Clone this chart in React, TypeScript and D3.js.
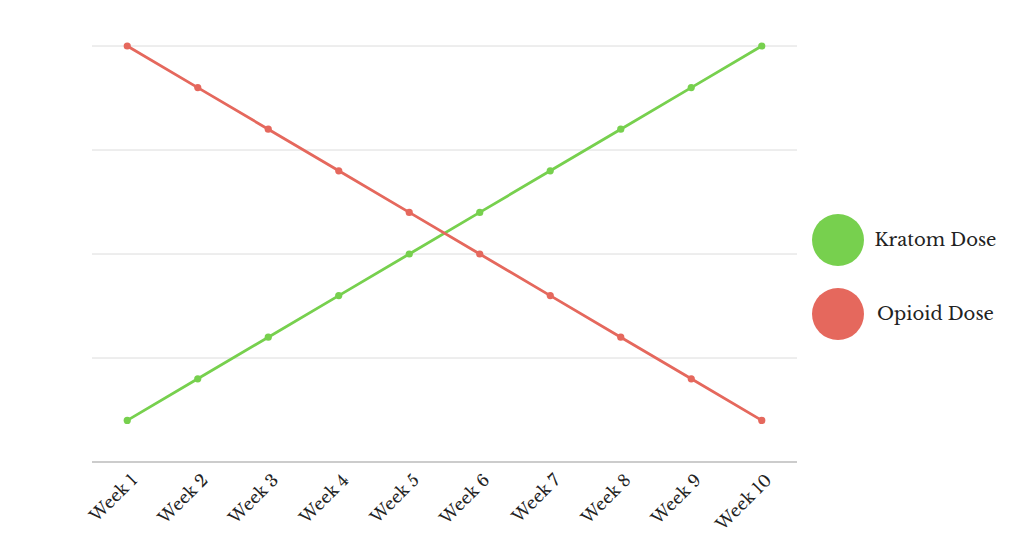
import React from "react";
import * as d3 from "d3";

const weeks = ["Week 1","Week 2","Week 3","Week 4","Week 5","Week 6","Week 7","Week 8","Week 9","Week 10"];
const kratom = [10,20,30,40,50,60,70,80,90,100];
const opioid = [100,90,80,70,60,50,40,30,20,10];
const gridValues = [25,50,75,100];
const seriesNames = ["Kratom Dose","Opioid Dose"];
const colors = ["#77D04E","#E5685D"];

export default function App() {
  const W = 1024, H = 554;
  const left = 92, right = 797, top = 46, bottom = 462;
  const x = d3.scalePoint<string>().domain(weeks).range([left, right]).padding(0.5);
  const y = d3.scaleLinear().domain([0, 100]).range([bottom, top]);
  const line = d3.line<number>().x((_, i) => x(weeks[i])!).y(d => y(d));
  const series = [kratom, opioid];
  const font = "'Libre Baskerville', 'DejaVu Serif', serif";
  return (
    <svg width={W} height={H} style={{ position: "absolute", left: 0, top: 0, background: "#fff" }}>
      {gridValues.map(v => (
        <line key={v} x1={left} x2={right} y1={y(v)} y2={y(v)} stroke="#dcdcdc" strokeWidth={1} />
      ))}
      <line x1={left} x2={right} y1={bottom} y2={bottom} stroke="#999" strokeWidth={1} />
      {series.map((s, si) => (
        <g key={si}>
          <path d={line(s)!} fill="none" stroke={colors[si]} strokeWidth={2.8} />
          {s.map((v, i) => (
            <circle key={i} cx={x(weeks[i])} cy={y(v)} r={3.6} fill={colors[si]} />
          ))}
        </g>
      ))}
      {weeks.map(w => (
        <text key={w} transform={`translate(${x(w)! + 8},${bottom + 16}) rotate(-45)`}
          textAnchor="end" dominantBaseline="middle" fontFamily={font} fontSize={16.5} fill="#222">{w}</text>
      ))}
      {seriesNames.map((n, i) => (
        <g key={n}>
          <circle cx={838} cy={240 + i * 74} r={26} fill={colors[i]} />
          <text x={935.5} y={240 + i * 74} textAnchor="middle" dominantBaseline="central"
            fontFamily={font} fontSize={18} fill="#222">{n}</text>
        </g>
      ))}
    </svg>
  );
}
